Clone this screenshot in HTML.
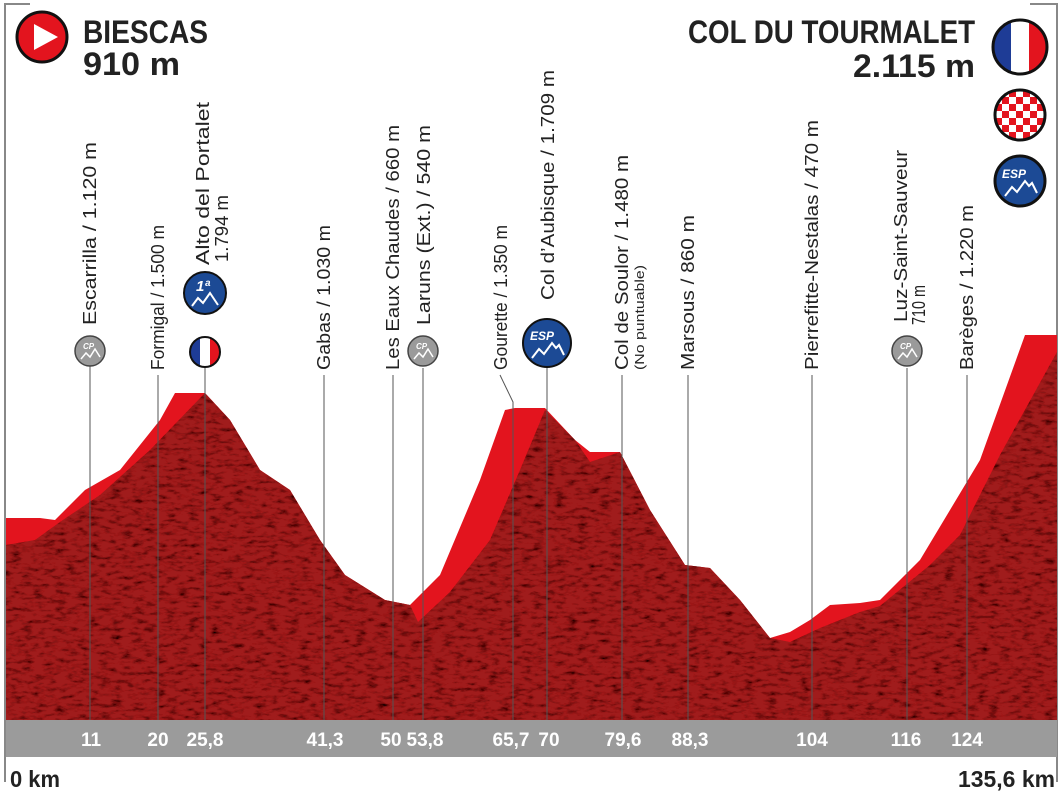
<!DOCTYPE html>
<html><head><meta charset="utf-8"><style>
html,body{margin:0;padding:0;background:#fff;width:1063px;height:799px;overflow:hidden}
svg{display:block}
.l{font-family:"Liberation Sans Narrow","Liberation Sans",sans-serif;font-size:18px;fill:#222}
.h{font-family:"Liberation Sans Narrow","Liberation Sans",sans-serif;font-weight:bold;fill:#222}
.ax{font-family:"Liberation Sans Narrow","Liberation Sans",sans-serif;font-weight:bold;font-size:19px;fill:#fff}
</style></head><body>
<svg width="1063" height="799" viewBox="0 0 1063 799" xmlns="http://www.w3.org/2000/svg">
<defs>
<filter id="tex" x="0" y="0" width="100%" height="100%">
<feTurbulence type="fractalNoise" baseFrequency="0.09 0.25" numOctaves="3" seed="4" result="n"/>
<feColorMatrix in="n" type="matrix" values="0 0 0 0 0  0 0 0 0 0  0 0 0 0 0  0 0 0 -2.2 1.15" result="a"/>
<feComposite in="a" in2="SourceGraphic" operator="in" result="d"/>
<feMerge><feMergeNode in="SourceGraphic"/><feMergeNode in="d"/></feMerge>
</filter>
</defs>
<path d="M30 4 H5 V782" stroke="#888" stroke-width="2" fill="none"/>
<path d="M1030 4 H1057 V782" stroke="#888" stroke-width="2" fill="none"/>

<polygon fill="#e3141e" points="6,518 40,518 55,520 85,490 120,470 160,420 175,393 205,393 230,420 260,470 290,490 320,540 345,575 385,600 410,605 440,575 480,480 505,410 515,408 545,408 575,440 590,452 620,452 650,510 685,565 710,568 740,600 770,638 790,632 810,620 830,605 860,603 880,600 920,560 950,510 980,460 1025,335 1057,335 1057,720 6,720"/>
<polygon fill="#a01a1a" filter="url(#tex)" points="6,545 35,540 60,522 100,495 150,450 205,393 230,420 260,470 290,490 320,540 345,575 385,600 410,605 418,622 450,592 490,540 520,470 545,410 575,440 590,462 620,452 650,510 685,565 710,568 740,600 770,638 790,642 820,628 860,612 880,606 930,565 960,535 1000,455 1057,352 1057,720 6,720"/>

<g stroke="#555" stroke-width="1">
<line x1="90" y1="366" x2="90" y2="720"/>
<line x1="158" y1="375" x2="158" y2="720"/>
<line x1="205" y1="368" x2="205" y2="720"/>
<line x1="324" y1="375" x2="324" y2="720"/>
<line x1="393" y1="375" x2="393" y2="720"/>
<line x1="423" y1="368" x2="423" y2="720"/>
<polyline points="500,375 513,402 513,720" fill="none"/>
<line x1="547" y1="368" x2="547" y2="720"/>
<line x1="622" y1="375" x2="622" y2="720"/>
<line x1="688" y1="375" x2="688" y2="720"/>
<line x1="812" y1="375" x2="812" y2="720"/>
<line x1="907" y1="368" x2="907" y2="720"/>
<line x1="967" y1="375" x2="967" y2="720"/>
</g>

<g class="l">
<text transform="translate(96,325) rotate(-90)" textLength="183" lengthAdjust="spacingAndGlyphs">Escarrilla / 1.120 m</text>
<text transform="translate(164,370) rotate(-90)" textLength="145" lengthAdjust="spacingAndGlyphs">Formigal / 1.500 m</text>
<text transform="translate(209,265) rotate(-90)" textLength="163" lengthAdjust="spacingAndGlyphs">Alto del Portalet</text>
<text transform="translate(228,262) rotate(-90)" textLength="67" lengthAdjust="spacingAndGlyphs">1.794 m</text>
<text transform="translate(330,370) rotate(-90)" textLength="145" lengthAdjust="spacingAndGlyphs">Gabas / 1.030 m</text>
<text transform="translate(399,370) rotate(-90)" textLength="245" lengthAdjust="spacingAndGlyphs">Les Eaux Chaudes / 660 m</text>
<text transform="translate(430,325) rotate(-90)" textLength="200" lengthAdjust="spacingAndGlyphs">Laruns (Ext.) / 540 m</text>
<text transform="translate(507,370) rotate(-90)" textLength="145" lengthAdjust="spacingAndGlyphs">Gourette / 1.350 m</text>
<text transform="translate(554,300) rotate(-90)" textLength="230" lengthAdjust="spacingAndGlyphs">Col d’Aubisque / 1.709 m</text>
<text transform="translate(628,370) rotate(-90)" textLength="215" lengthAdjust="spacingAndGlyphs">Col de Soulor / 1.480 m</text>
<text transform="translate(644,370) rotate(-90)" style="font-size:13px" textLength="105" lengthAdjust="spacingAndGlyphs">(No puntuable)</text>
<text transform="translate(694,370) rotate(-90)" textLength="155" lengthAdjust="spacingAndGlyphs">Marsous / 860 m</text>
<text transform="translate(818,370) rotate(-90)" textLength="250" lengthAdjust="spacingAndGlyphs">Pierrefitte-Nestalas / 470 m</text>
<text transform="translate(907,322) rotate(-90)" textLength="172" lengthAdjust="spacingAndGlyphs">Luz-Saint-Sauveur</text>
<text transform="translate(925,325) rotate(-90)" textLength="40" lengthAdjust="spacingAndGlyphs">710 m</text>
<text transform="translate(973,370) rotate(-90)" textLength="165" lengthAdjust="spacingAndGlyphs">Barèges / 1.220 m</text>
</g>

<g>
<g transform="translate(90,351)"><circle r="15" fill="#9a9a9a" stroke="#444" stroke-width="1.5"/><text x="-7" y="-2" font-family="Liberation Sans" font-size="8" font-style="italic" font-weight="bold" fill="#fff">CP</text><polyline points="-9,8 -4,2 0,6 5,-2 10,6" fill="none" stroke="#fff" stroke-width="1.5"/></g>
<g transform="translate(423,351)"><circle r="15" fill="#9a9a9a" stroke="#444" stroke-width="1.5"/><text x="-7" y="-2" font-family="Liberation Sans" font-size="8" font-style="italic" font-weight="bold" fill="#fff">CP</text><polyline points="-9,8 -4,2 0,6 5,-2 10,6" fill="none" stroke="#fff" stroke-width="1.5"/></g>
<g transform="translate(907,351)"><circle r="15" fill="#9a9a9a" stroke="#444" stroke-width="1.5"/><text x="-7" y="-2" font-family="Liberation Sans" font-size="8" font-style="italic" font-weight="bold" fill="#fff">CP</text><polyline points="-9,8 -4,2 0,6 5,-2 10,6" fill="none" stroke="#fff" stroke-width="1.5"/></g>
</g>
<g transform="translate(205,293)"><circle r="21" fill="#1c4a95" stroke="#111" stroke-width="2"/><text x="-9" y="-2" font-family="Liberation Sans" font-size="15" font-style="italic" font-weight="bold" fill="#fff">1ª</text><polyline points="-13,13 -7,5 -2,10 5,0 13,12" fill="none" stroke="#fff" stroke-width="2"/></g>
<g transform="translate(205,352)"><clipPath id="cf1"><circle r="15"/></clipPath><g clip-path="url(#cf1)"><rect x="-15" y="-15" width="10" height="30" fill="#1e3c96"/><rect x="-5" y="-15" width="10" height="30" fill="#fff"/><rect x="5" y="-15" width="10" height="30" fill="#e3141e"/></g><circle r="15" fill="none" stroke="#111" stroke-width="2"/></g>
<g transform="translate(547,343)"><circle r="24" fill="#1c4a95" stroke="#111" stroke-width="2"/><text x="-17" y="-3" font-family="Liberation Sans" font-size="12" font-style="italic" font-weight="bold" fill="#fff">ESP</text><polyline points="-15,15 -8,6 -3,11 5,0 9,5 12,2 17,12" fill="none" stroke="#fff" stroke-width="2"/></g>

<rect x="6" y="720" width="1051" height="37" fill="#9b9b9b"/>
<g class="ax" text-anchor="middle">
<text x="91" y="746">11</text><text x="158" y="746">20</text><text x="205" y="746">25,8</text>
<text x="325" y="746">41,3</text><text x="391" y="746">50</text><text x="425" y="746">53,8</text>
<text x="511" y="746">65,7</text><text x="549" y="746">70</text><text x="623" y="746">79,6</text>
<text x="690" y="746">88,3</text><text x="812" y="746">104</text><text x="906" y="746">116</text><text x="967" y="746">124</text>
</g>
<text class="h" x="10" y="787" font-size="23" textLength="50" lengthAdjust="spacingAndGlyphs">0 km</text>
<text class="h" x="958" y="787" font-size="23" textLength="97" lengthAdjust="spacingAndGlyphs">135,6 km</text>

<circle cx="42" cy="37" r="25" fill="#e3141e" stroke="#111" stroke-width="3"/>
<polygon points="34,24 34,50 58,37" fill="#fff"/>
<text class="h" x="83" y="43" font-size="32" textLength="125" lengthAdjust="spacingAndGlyphs">BIESCAS</text>
<text class="h" x="83" y="75" font-size="32" textLength="97" lengthAdjust="spacingAndGlyphs">910 m</text>
<text class="h" x="688" y="43" font-size="32" textLength="287" lengthAdjust="spacingAndGlyphs">COL DU TOURMALET</text>
<text class="h" x="853" y="77" font-size="32" textLength="122" lengthAdjust="spacingAndGlyphs">2.115 m</text>
<g transform="translate(1020,47)"><clipPath id="cf2"><circle r="27"/></clipPath><g clip-path="url(#cf2)"><rect x="-27" y="-27" width="18" height="54" fill="#1e3c96"/><rect x="-9" y="-27" width="18" height="54" fill="#fff"/><rect x="9" y="-27" width="18" height="54" fill="#e3141e"/></g><circle r="27" fill="none" stroke="#111" stroke-width="3"/></g>
<g transform="translate(1020,115)"><clipPath id="cf3"><circle r="25"/></clipPath><g clip-path="url(#cf3)"><rect x="-25" y="-25" width="50" height="50" fill="#fff"/>
<g fill="#e3141e">
<rect x="-25" y="-25" width="7" height="7"/><rect x="-11" y="-25" width="7" height="7"/><rect x="3" y="-25" width="7" height="7"/><rect x="17" y="-25" width="7" height="7"/>
<rect x="-18" y="-18" width="7" height="7"/><rect x="-4" y="-18" width="7" height="7"/><rect x="10" y="-18" width="7" height="7"/>
<rect x="-25" y="-11" width="7" height="7"/><rect x="-11" y="-11" width="7" height="7"/><rect x="3" y="-11" width="7" height="7"/><rect x="17" y="-11" width="7" height="7"/>
<rect x="-18" y="-4" width="7" height="7"/><rect x="-4" y="-4" width="7" height="7"/><rect x="10" y="-4" width="7" height="7"/>
<rect x="-25" y="3" width="7" height="7"/><rect x="-11" y="3" width="7" height="7"/><rect x="3" y="3" width="7" height="7"/><rect x="17" y="3" width="7" height="7"/>
<rect x="-18" y="10" width="7" height="7"/><rect x="-4" y="10" width="7" height="7"/><rect x="10" y="10" width="7" height="7"/>
<rect x="-25" y="17" width="7" height="7"/><rect x="-11" y="17" width="7" height="7"/><rect x="3" y="17" width="7" height="7"/><rect x="17" y="17" width="7" height="7"/>
</g></g><circle r="25" fill="none" stroke="#111" stroke-width="3"/></g>
<g transform="translate(1020,181)"><circle r="25" fill="#1c4a95" stroke="#111" stroke-width="3"/><text x="-18" y="-3" font-family="Liberation Sans" font-size="12" font-style="italic" font-weight="bold" fill="#fff">ESP</text><polyline points="-15,15 -8,6 -3,11 5,0 9,5 12,2 17,12" fill="none" stroke="#fff" stroke-width="2"/></g>
</svg>
</body></html>
